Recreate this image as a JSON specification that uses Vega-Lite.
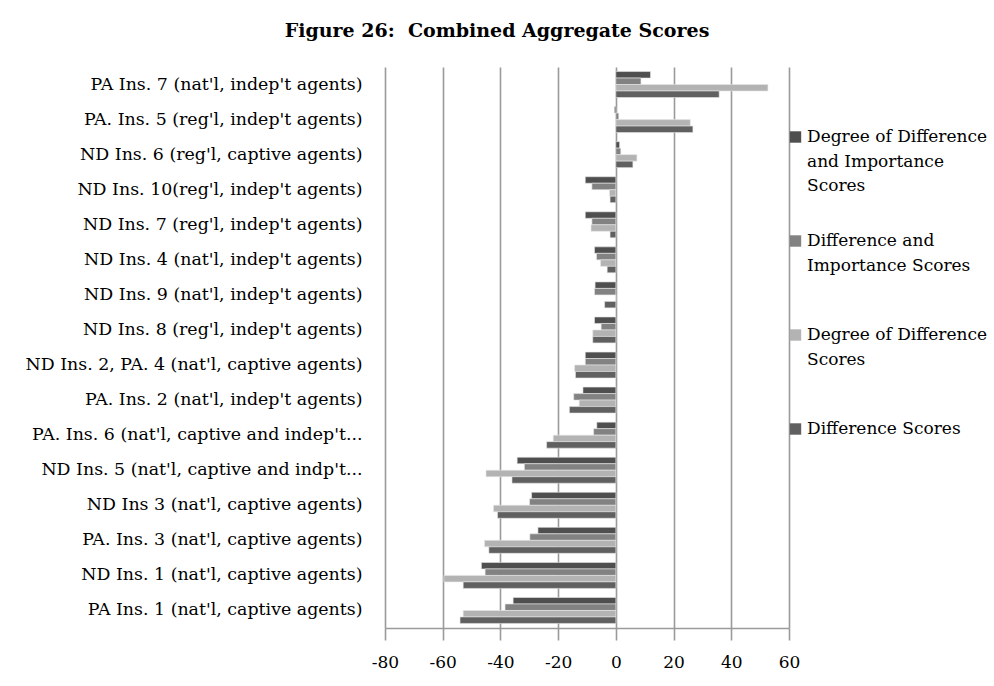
{
  "$schema": "https://vega.github.io/schema/vega-lite/v6.json",
  "autosize": {"type": "none"},
  "width": 404,
  "height": 561,
  "padding": {"left": 385, "top": 67, "right": 205, "bottom": 58},
  "background": "white",
  "title": {
    "text": "Figure 26:\u00a0 Combined Aggregate Scores",
    "font": "DejaVu Serif",
    "fontSize": 19,
    "fontWeight": "bold",
    "color": "#000000",
    "anchor": "middle",
    "frame": "group",
    "dx": -90,
    "offset": 26
  },
  "config": {
    "view": {"stroke": null},
    "font": "DejaVu Serif",
    "style": {"guide-label": {"lineHeight": 24.5}}
  },
  "data": {
    "values": [
      {"cat": "PA Ins. 7 (nat'l, indep't agents)", "series": "Degree of Difference and Importance Scores", "value": 12.0},
      {"cat": "PA Ins. 7 (nat'l, indep't agents)", "series": "Difference and Importance Scores", "value": 8.7},
      {"cat": "PA Ins. 7 (nat'l, indep't agents)", "series": "Degree of Difference Scores", "value": 52.7},
      {"cat": "PA Ins. 7 (nat'l, indep't agents)", "series": "Difference Scores", "value": 35.8},
      {"cat": "PA. Ins. 5 (reg'l, indep't agents)", "series": "Degree of Difference and Importance Scores", "value": -0.5},
      {"cat": "PA. Ins. 5 (reg'l, indep't agents)", "series": "Difference and Importance Scores", "value": 1.0},
      {"cat": "PA. Ins. 5 (reg'l, indep't agents)", "series": "Degree of Difference Scores", "value": 25.8},
      {"cat": "PA. Ins. 5 (reg'l, indep't agents)", "series": "Difference Scores", "value": 26.7},
      {"cat": "ND Ins. 6 (reg'l, captive agents)", "series": "Degree of Difference and Importance Scores", "value": 1.3},
      {"cat": "ND Ins. 6 (reg'l, captive agents)", "series": "Difference and Importance Scores", "value": 1.7},
      {"cat": "ND Ins. 6 (reg'l, captive agents)", "series": "Degree of Difference Scores", "value": 7.3},
      {"cat": "ND Ins. 6 (reg'l, captive agents)", "series": "Difference Scores", "value": 5.9},
      {"cat": "ND Ins. 10(reg'l, indep't agents)", "series": "Degree of Difference and Importance Scores", "value": -10.6},
      {"cat": "ND Ins. 10(reg'l, indep't agents)", "series": "Difference and Importance Scores", "value": -8.3},
      {"cat": "ND Ins. 10(reg'l, indep't agents)", "series": "Degree of Difference Scores", "value": -2.2},
      {"cat": "ND Ins. 10(reg'l, indep't agents)", "series": "Difference Scores", "value": -2.0},
      {"cat": "ND Ins. 7 (reg'l, indep't agents)", "series": "Degree of Difference and Importance Scores", "value": -10.6},
      {"cat": "ND Ins. 7 (reg'l, indep't agents)", "series": "Difference and Importance Scores", "value": -8.3},
      {"cat": "ND Ins. 7 (reg'l, indep't agents)", "series": "Degree of Difference Scores", "value": -8.6},
      {"cat": "ND Ins. 7 (reg'l, indep't agents)", "series": "Difference Scores", "value": -2.0},
      {"cat": "ND Ins. 4 (nat'l, indep't agents)", "series": "Degree of Difference and Importance Scores", "value": -7.4},
      {"cat": "ND Ins. 4 (nat'l, indep't agents)", "series": "Difference and Importance Scores", "value": -6.7},
      {"cat": "ND Ins. 4 (nat'l, indep't agents)", "series": "Degree of Difference Scores", "value": -5.3},
      {"cat": "ND Ins. 4 (nat'l, indep't agents)", "series": "Difference Scores", "value": -3.0},
      {"cat": "ND Ins. 9 (nat'l, indep't agents)", "series": "Degree of Difference and Importance Scores", "value": -7.2},
      {"cat": "ND Ins. 9 (nat'l, indep't agents)", "series": "Difference and Importance Scores", "value": -7.4},
      {"cat": "ND Ins. 9 (nat'l, indep't agents)", "series": "Degree of Difference Scores", "value": 0.0},
      {"cat": "ND Ins. 9 (nat'l, indep't agents)", "series": "Difference Scores", "value": -3.9},
      {"cat": "ND Ins. 8 (reg'l, indep't agents)", "series": "Degree of Difference and Importance Scores", "value": -7.4},
      {"cat": "ND Ins. 8 (reg'l, indep't agents)", "series": "Difference and Importance Scores", "value": -5.1},
      {"cat": "ND Ins. 8 (reg'l, indep't agents)", "series": "Degree of Difference Scores", "value": -8.0},
      {"cat": "ND Ins. 8 (reg'l, indep't agents)", "series": "Difference Scores", "value": -8.0},
      {"cat": "ND Ins. 2, PA. 4 (nat'l, captive agents)", "series": "Degree of Difference and Importance Scores", "value": -10.6},
      {"cat": "ND Ins. 2, PA. 4 (nat'l, captive agents)", "series": "Difference and Importance Scores", "value": -10.6},
      {"cat": "ND Ins. 2, PA. 4 (nat'l, captive agents)", "series": "Degree of Difference Scores", "value": -14.3},
      {"cat": "ND Ins. 2, PA. 4 (nat'l, captive agents)", "series": "Difference Scores", "value": -14.0},
      {"cat": "PA. Ins. 2 (nat'l, indep't agents)", "series": "Degree of Difference and Importance Scores", "value": -11.4},
      {"cat": "PA. Ins. 2 (nat'l, indep't agents)", "series": "Difference and Importance Scores", "value": -14.6},
      {"cat": "PA. Ins. 2 (nat'l, indep't agents)", "series": "Degree of Difference Scores", "value": -12.7},
      {"cat": "PA. Ins. 2 (nat'l, indep't agents)", "series": "Difference Scores", "value": -16.1},
      {"cat": "PA. Ins. 6 (nat'l, captive and indep't...", "series": "Degree of Difference and Importance Scores", "value": -6.6},
      {"cat": "PA. Ins. 6 (nat'l, captive and indep't...", "series": "Difference and Importance Scores", "value": -7.7},
      {"cat": "PA. Ins. 6 (nat'l, captive and indep't...", "series": "Degree of Difference Scores", "value": -21.7},
      {"cat": "PA. Ins. 6 (nat'l, captive and indep't...", "series": "Difference Scores", "value": -24.0},
      {"cat": "ND Ins. 5 (nat'l, captive and indp't...", "series": "Degree of Difference and Importance Scores", "value": -34.2},
      {"cat": "ND Ins. 5 (nat'l, captive and indp't...", "series": "Difference and Importance Scores", "value": -31.7},
      {"cat": "ND Ins. 5 (nat'l, captive and indp't...", "series": "Degree of Difference Scores", "value": -45.0},
      {"cat": "ND Ins. 5 (nat'l, captive and indp't...", "series": "Difference Scores", "value": -36.0},
      {"cat": "ND Ins 3 (nat'l, captive agents)", "series": "Degree of Difference and Importance Scores", "value": -29.2},
      {"cat": "ND Ins 3 (nat'l, captive agents)", "series": "Difference and Importance Scores", "value": -29.9},
      {"cat": "ND Ins 3 (nat'l, captive agents)", "series": "Degree of Difference Scores", "value": -42.4},
      {"cat": "ND Ins 3 (nat'l, captive agents)", "series": "Difference Scores", "value": -41.0},
      {"cat": "PA. Ins. 3 (nat'l, captive agents)", "series": "Degree of Difference and Importance Scores", "value": -27.0},
      {"cat": "PA. Ins. 3 (nat'l, captive agents)", "series": "Difference and Importance Scores", "value": -29.8},
      {"cat": "PA. Ins. 3 (nat'l, captive agents)", "series": "Degree of Difference Scores", "value": -45.5},
      {"cat": "PA. Ins. 3 (nat'l, captive agents)", "series": "Difference Scores", "value": -44.0},
      {"cat": "ND Ins. 1 (nat'l, captive agents)", "series": "Degree of Difference and Importance Scores", "value": -46.6},
      {"cat": "ND Ins. 1 (nat'l, captive agents)", "series": "Difference and Importance Scores", "value": -45.3},
      {"cat": "ND Ins. 1 (nat'l, captive agents)", "series": "Degree of Difference Scores", "value": -59.6},
      {"cat": "ND Ins. 1 (nat'l, captive agents)", "series": "Difference Scores", "value": -52.9},
      {"cat": "PA Ins. 1 (nat'l, captive agents)", "series": "Degree of Difference and Importance Scores", "value": -35.6},
      {"cat": "PA Ins. 1 (nat'l, captive agents)", "series": "Difference and Importance Scores", "value": -38.4},
      {"cat": "PA Ins. 1 (nat'l, captive agents)", "series": "Degree of Difference Scores", "value": -52.9},
      {"cat": "PA Ins. 1 (nat'l, captive agents)", "series": "Difference Scores", "value": -54.0}
    ]
  },
  "mark": {"type": "bar", "stroke": "#e6e6e6", "strokeWidth": 0.6},
  "encoding": {
    "y": {
      "field": "cat",
      "type": "nominal",
      "sort": null,
      "scale": {"paddingInner": 0.26, "paddingOuter": 0.13},
      "axis": {
        "title": null,
        "ticks": false,
        "domain": false,
        "labelFont": "DejaVu Serif",
        "labelFontSize": 17.4,
        "labelColor": "#000000",
        "labelPadding": 23,
        "labelLimit": 400
      }
    },
    "yOffset": {
      "field": "series",
      "type": "nominal",
      "sort": ["Degree of Difference and Importance Scores", "Difference and Importance Scores", "Degree of Difference Scores", "Difference Scores"],
      "scale": {"paddingInner": 0, "paddingOuter": 0}
    },
    "x": {
      "field": "value",
      "type": "quantitative",
      "scale": {"domain": [-80, 60], "nice": false, "zero": false},
      "axis": {
        "title": null,
        "values": [-80, -60, -40, -20, 0, 20, 40, 60],
        "labelExpr": "'' + datum.value",
        "grid": true,
        "gridColor": "#9a9a9a",
        "gridWidth": 1.6,
        "domainColor": "#9a9a9a",
        "domainWidth": 1.6,
        "tickColor": "#9a9a9a",
        "tickWidth": 1.6,
        "tickSize": 12,
        "labelPadding": 14,
        "labelFont": "DejaVu Serif",
        "labelFontSize": 17,
        "labelColor": "#000000",
        "labelFlush": false
      }
    },
    "color": {
      "field": "series",
      "type": "nominal",
      "sort": ["Degree of Difference and Importance Scores", "Difference and Importance Scores", "Degree of Difference Scores", "Difference Scores"],
      "scale": {
        "domain": ["Degree of Difference and Importance Scores", "Difference and Importance Scores", "Degree of Difference Scores", "Difference Scores"],
        "range": ["#4f4f4f", "#828282", "#b3b3b3", "#606060"]
      },
      "legend": {
        "title": null,
        "orient": "none",
        "legendX": 402,
        "legendY": 23,
        "padding": 0,
        "clipHeight": 94,
        "symbolType": "square",
        "symbolSize": 130,
        "symbolStrokeWidth": 0,
        "labelFont": "DejaVu Serif",
        "labelFontSize": 17,
        "labelColor": "#000000",
        "labelOffset": 3,
        "labelLimit": 300,
        "labelBaseline": "middle",
        "labelExpr": "datum.label == 'Degree of Difference and Importance Scores' ? ['Degree of Difference', 'and Importance', 'Scores'] : datum.label == 'Difference and Importance Scores' ? ['Difference and', 'Importance Scores'] : datum.label == 'Degree of Difference Scores' ? ['Degree of Difference', 'Scores'] : datum.label",
        "rowPadding": 0
      }
    }
  }
}
